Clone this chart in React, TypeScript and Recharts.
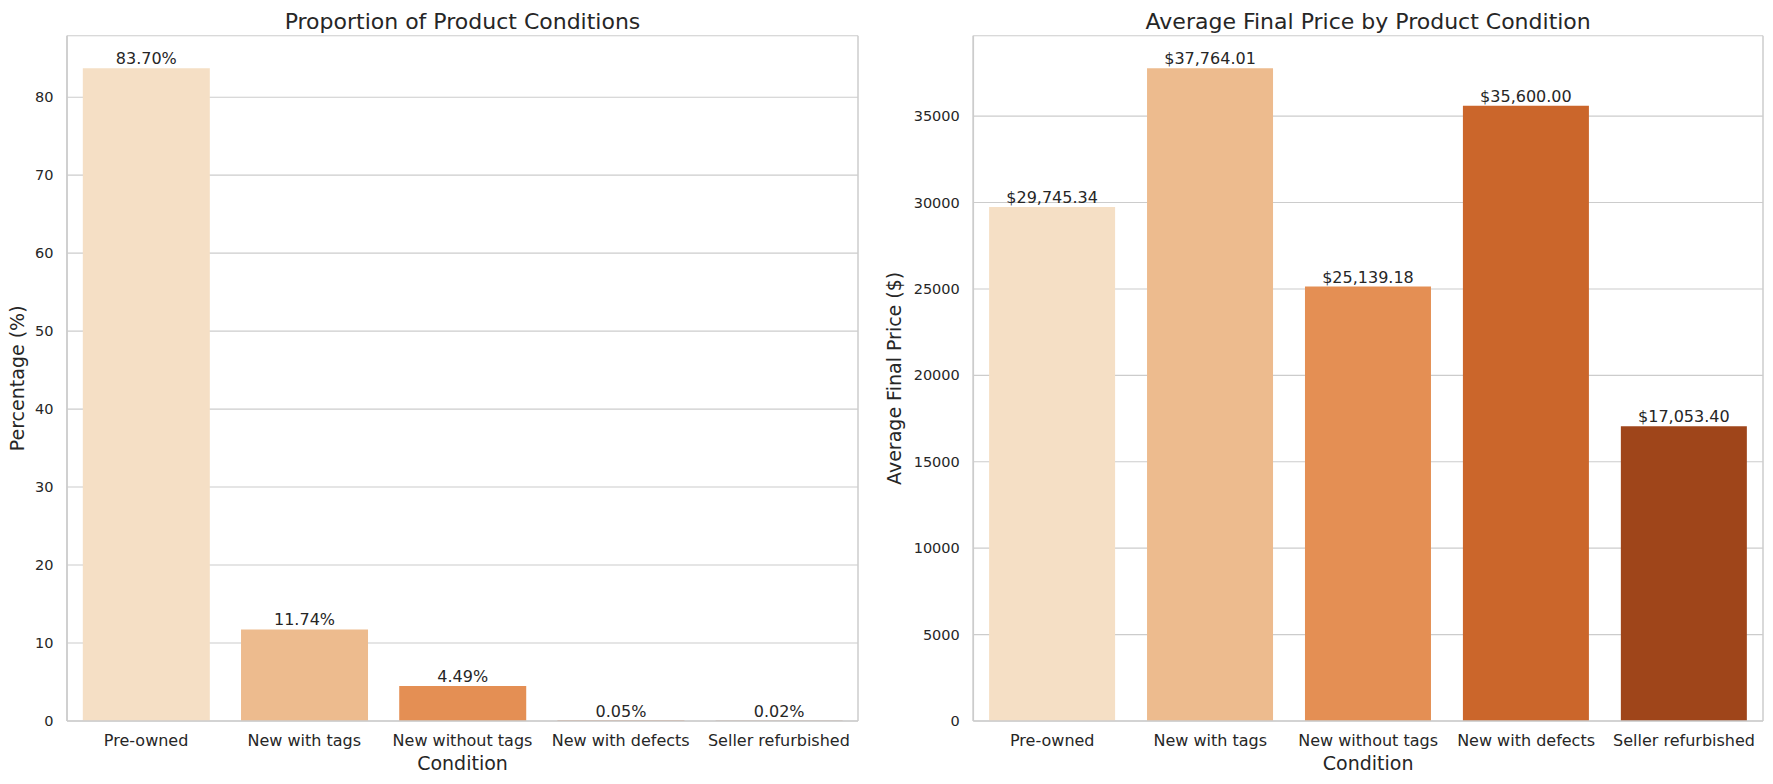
import React from 'react';
import { BarChart, Bar, XAxis, YAxis, CartesianGrid, Cell, LabelList } from 'recharts';

const conditions = ['Pre-owned', 'New with tags', 'New without tags', 'New with defects', 'Seller refurbished'];
const proportionPct = [83.70, 11.74, 4.49, 0.05, 0.02];
const avgFinalPrice = [29745.34, 37764.01, 25139.18, 35600.00, 17053.40];
const barColors = ['#f5dfc5', '#edbb8e', '#e48f54', '#cb662b', '#9f451a'];
const pctTicks = [0, 10, 20, 30, 40, 50, 60, 70, 80];
const priceTicks = [0, 5000, 10000, 15000, 20000, 25000, 30000, 35000];

const leftData = conditions.map((name, i) => ({ name, value: proportionPct[i] }));
const rightData = conditions.map((name, i) => ({ name, value: avgFinalPrice[i] }));

const FONT = '"DejaVu Sans", sans-serif';
const TEXT = '#262626';
const EDGE = '#cccccc';

const priceFmt = new Intl.NumberFormat('en-US', { minimumFractionDigits: 2, maximumFractionDigits: 2 });

function Panel(props: {
  data: { name: string; value: number }[];
  width: number;
  yWidth: number;
  rightMargin: number;
  domainMax: number;
  ticks: number[];
  yLabel: string;
  yLabelOffset: number;
  fmt: (v: number) => string;
}) {
  const { data, width, yWidth, rightMargin, domainMax, ticks, yLabel, yLabelOffset, fmt } = props;
  return (
    <BarChart
      width={width}
      height={784}
      data={data}
      margin={{ top: 35.7, right: rightMargin, bottom: 0, left: 0 }}
      barCategoryGap="10%"
      style={{ fontFamily: FONT }}
    >
      <CartesianGrid vertical={false} stroke={EDGE} strokeWidth={1.1} />
      <CartesianGrid
        horizontal={false}
        stroke={EDGE}
        strokeWidth={1.5}
        verticalCoordinatesGenerator={(p: any) => [p.offset.left, p.offset.left + p.offset.width]}
      />
      <XAxis
        dataKey="name"
        interval={0}
        height={63}
        tickSize={0}
        tickLine={false}
        tickMargin={13.6}
        axisLine={{ stroke: EDGE, strokeWidth: 1.5 }}
        tick={{ fontSize: 16, fill: TEXT, fontFamily: FONT }}
        label={{ value: 'Condition', position: 'insideBottom', offset: 14, fontSize: 19, fill: TEXT, fontFamily: FONT }}
      />
      <XAxis
        xAxisId="top"
        dataKey="name"
        orientation="top"
        height={0}
        tick={false}
        tickLine={false}
        axisLine={{ stroke: EDGE, strokeWidth: 1.5 }}
      />
      <YAxis
        width={yWidth}
        domain={[0, domainMax]}
        ticks={ticks}
        allowDataOverflow
        tickSize={0}
        tickLine={false}
        tickMargin={13.5}
        axisLine={{ stroke: EDGE, strokeWidth: 1.5 }}
        tick={{ fontSize: 14.5, fill: TEXT, fontFamily: FONT }}
        label={{
          value: yLabel,
          angle: -90,
          position: 'insideLeft',
          offset: yLabelOffset,
          fontSize: 19,
          fill: TEXT,
          fontFamily: FONT,
          style: { textAnchor: 'middle' },
        }}
      />
      <YAxis
        yAxisId="right"
        orientation="right"
        width={0}
        tick={false}
        tickLine={false}
        axisLine={{ stroke: EDGE, strokeWidth: 1.5 }}
      />
      <Bar dataKey="value" isAnimationActive={false}>
        {data.map((d, i) => (
          <Cell key={d.name} fill={barColors[i]} />
        ))}
        <LabelList
          dataKey="value"
          position="top"
          offset={4}
          formatter={(v: any) => fmt(Number(v))}
          style={{ fontSize: 16, fill: TEXT, fontFamily: FONT }}
        />
      </Bar>
    </BarChart>
  );
}

export default function App() {
  return (
    <div style={{ position: 'absolute', left: 0, top: 0, width: 1773, height: 784, background: '#ffffff' }}>
      <div style={{ position: 'absolute', left: 0, top: 0 }}>
        <Panel
          data={leftData}
          width={870}
          yWidth={67}
          rightMargin={12}
          domainMax={83.7 * 1.05}
          ticks={pctTicks}
          yLabel="Percentage (%)"
          yLabelOffset={17}
          fmt={(v) => `${v.toFixed(2)}%`}
        />
      </div>
      <div style={{ position: 'absolute', left: 870, top: 0 }}>
        <Panel
          data={rightData}
          width={903}
          yWidth={103.3}
          rightMargin={10}
          domainMax={37764.01 * 1.05}
          ticks={priceTicks}
          yLabel="Average Final Price ($)"
          yLabelOffset={24.5}
          fmt={(v) => `$${priceFmt.format(v)}`}
        />
      </div>
      <svg
        width={1773}
        height={784}
        style={{ position: 'absolute', left: 0, top: 0, pointerEvents: 'none' }}
      >
        <text x={462.5} y={28.5} textAnchor="middle" fontSize={22} fill={TEXT} fontFamily={FONT}>
          Proportion of Product Conditions
        </text>
        <text x={1368.2} y={28.5} textAnchor="middle" fontSize={22} fill={TEXT} fontFamily={FONT}>
          Average Final Price by Product Condition
        </text>
      </svg>
    </div>
  );
}
